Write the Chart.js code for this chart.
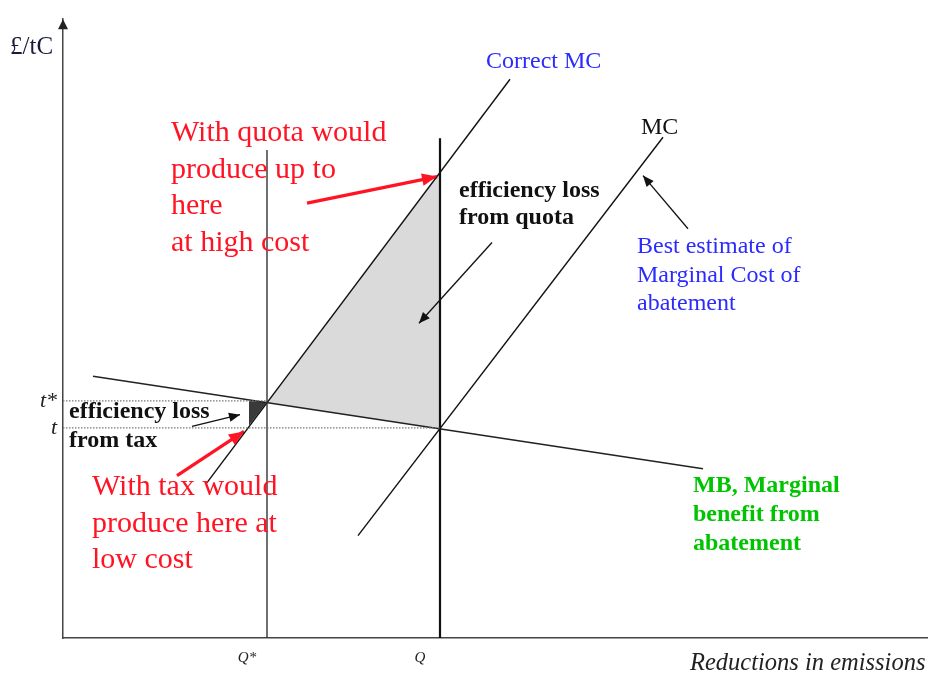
<!DOCTYPE html>
<html>
<head>
<meta charset="utf-8">
<script src="https://cdn.jsdelivr.net/npm/chart.js@4.4.1/dist/chart.umd.min.js"></script>
<style>
  body { margin: 0; background: #fff; }
  #wrap { width: 928px; height: 677px; }
</style>
</head>
<body>
<div id="wrap"><canvas id="abatementChart" width="928" height="677"></canvas></div>
<script>
// axis ranges (abatement Q on x, price £/tC on y)
const xMax = 865;
const yMax = 629;

// tick labels
const qTicks = [204, 377];
const qLabels = ['Q*', 'Q'];
const priceTicks = [241, 213.5];
const priceLabels = ['t*', 't'];

// curves
const mbLine = [{ x: 30, y: 266 }, { x: 640, y: 172 }];
const correctMcLine = [{ x: 144, y: 158 }, { x: 447, y: 568 }];
const mcLine = [{ x: 295, y: 104 }, { x: 600, y: 509 }];
const qStarLine = [{ x: 204, y: 0 }, { x: 204, y: 496 }];
const qLine = [{ x: 377, y: 0 }, { x: 377, y: 508 }];
const tStarLine = [{ x: 0, y: 241 }, { x: 204, y: 241 }];
const tLine = [{ x: 0, y: 213.5 }, { x: 377, y: 213.5 }];

// shaded efficiency losses
const quotaLossArea = [{ x: 204, y: 239 }, { x: 377, y: 473 }, { x: 377, y: 212.5 }, { x: 204, y: 239 }];
const taxLossArea = [{ x: 186, y: 241 }, { x: 204, y: 240 }, { x: 186, y: 216 }, { x: 186, y: 241 }];

// annotation arrows (tail, tip)
const quotaArrow = [{ x: 244, y: 442 }, { x: 374, y: 469 }];
const quotaLossArrow = [{ x: 429, y: 402 }, { x: 356, y: 320 }];
const mcArrow = [{ x: 625, y: 416 }, { x: 580, y: 470 }];
const taxArrow = [{ x: 114, y: 165 }, { x: 181, y: 210 }];
const taxLossArrow = [{ x: 129, y: 215 }, { x: 177, y: 227 }];

const serif = "'Liberation Serif', 'Times New Roman', serif";
const red = '#ff1424';
const blue = '#2b2bff';
const green = '#00c400';

const notes = [
    { lines: ['£/tC'], at: { x: -53, y: 594 }, font: '25px ' + serif, color: '#1a1a3a' },
    { lines: ['Correct MC'], at: { x: 423, y: 579 }, font: '24px ' + serif, color: blue },
    { lines: ['MC'], at: { x: 578, y: 512 }, font: '24px ' + serif, color: '#111' },
    { lines: ['With quota would', 'produce up to', 'here', 'at high cost'], at: { x: 108, y: 505 }, lh: 36.5, font: '30px ' + serif, color: red },
    { lines: ['efficiency loss', 'from quota'], at: { x: 396, y: 448 }, lh: 27, font: 'bold 24px ' + serif, color: '#111' },
    { lines: ['Best estimate of', 'Marginal Cost of', 'abatement'], at: { x: 574, y: 391 }, lh: 28.5, font: '24px ' + serif, color: blue },
    { lines: ['efficiency loss', 'from tax'], at: { x: 6, y: 224 }, lh: 29, font: 'bold 24px ' + serif, color: '#111' },
    { lines: ['With tax would', 'produce here at', 'low cost'], at: { x: 29, y: 145 }, lh: 36.5, font: '30px ' + serif, color: red },
    { lines: ['MB, Marginal', 'benefit from', 'abatement'], at: { x: 630, y: 148 }, lh: 29, font: 'bold 24px ' + serif, color: green },
    { lines: ['Reductions in emissions'], at: { x: 627, y: -33 }, font: 'italic 24.5px ' + serif, color: '#222' }
];

const line = (data, color, width, extra) => Object.assign({
    data: data, showLine: true, borderColor: color, borderWidth: width,
    pointRadius: 0, fill: false, tension: 0
}, extra || {});

const area = (data, color) => ({
    data: data, showLine: true, borderWidth: 0, borderColor: 'rgba(0,0,0,0)',
    backgroundColor: color, pointRadius: 0, fill: 'shape', order: 10
});

const arrowHeads = {
    id: 'arrowHeads',
    afterDatasetsDraw(chart) {
        const ctx = chart.ctx;
        chart.data.datasets.forEach((ds, i) => {
            if (!ds.head) return;
            const pts = chart.getDatasetMeta(i).data;
            const a = pts[pts.length - 2], b = pts[pts.length - 1];
            const ang = Math.atan2(b.y - a.y, b.x - a.x);
            const L = ds.head, W = ds.head * 0.42;
            ctx.save();
            ctx.fillStyle = ds.borderColor;
            ctx.beginPath();
            ctx.moveTo(b.x, b.y);
            ctx.lineTo(b.x - L * Math.cos(ang) + W * Math.sin(ang), b.y - L * Math.sin(ang) - W * Math.cos(ang));
            ctx.lineTo(b.x - L * Math.cos(ang) - W * Math.sin(ang), b.y - L * Math.sin(ang) + W * Math.cos(ang));
            ctx.closePath();
            ctx.fill();
            ctx.restore();
        });
        // arrow on top of price axis
        const { left, top } = chart.chartArea;
        ctx.save();
        ctx.fillStyle = '#222';
        ctx.beginPath();
        ctx.moveTo(left, top);
        ctx.lineTo(left - 5, top + 10);
        ctx.lineTo(left + 5, top + 10);
        ctx.closePath();
        ctx.fill();
        ctx.restore();
    }
};

const notesPlugin = {
    id: 'notes',
    afterDraw(chart) {
        const ctx = chart.ctx;
        const xs = chart.scales.x, ys = chart.scales.y;
        ctx.save();
        ctx.textAlign = 'left';
        ctx.textBaseline = 'alphabetic';
        notes.forEach(n => {
            ctx.font = n.font;
            ctx.fillStyle = n.color;
            const px = xs.getPixelForValue(n.at.x);
            const py = ys.getPixelForValue(n.at.y);
            n.lines.forEach((t, k) => ctx.fillText(t, px, py + k * (n.lh || 0)));
        });
        ctx.restore();
    }
};

new Chart(document.getElementById('abatementChart'), {
    type: 'scatter',
    data: {
        datasets: [
            area(quotaLossArea, '#dadada'),
            area(taxLossArea, '#3a3a3a'),
            line(tStarLine, '#777', 1.2, { borderDash: [1.5, 1.5] }),
            line(tLine, '#777', 1.2, { borderDash: [1.5, 1.5] }),
            line(qStarLine, '#333', 1.4),
            line(qLine, '#111', 2.2),
            line(mbLine, '#222', 1.6),
            line(correctMcLine, '#111', 1.4),
            line(mcLine, '#111', 1.4),
            line(quotaArrow, red, 3.2, { head: 15 }),
            line(taxArrow, red, 3.2, { head: 15 }),
            line(quotaLossArrow, '#111', 1.3, { head: 11 }),
            line(mcArrow, '#111', 1.3, { head: 11 }),
            line(taxLossArrow, '#111', 1.3, { head: 11 })
        ]
    },
    options: {
        responsive: false,
        animation: false,
        layout: { padding: { top: 9, right: 0, left: 0, bottom: 0 } },
        plugins: { legend: { display: false }, tooltip: { enabled: false } },
        scales: {
            x: {
                type: 'linear', min: 0, max: xMax,
                afterBuildTicks: s => { s.ticks = qTicks.map(v => ({ value: v })); },
                afterFit: s => { s.height = 39; },
                grid: { display: false, drawTicks: false },
                border: { display: true, color: '#444', width: 1.5 },
                ticks: {
                    callback: (v, i) => qLabels[i],
                    font: { family: serif, size: 15, style: 'italic' },
                    color: '#222', padding: 11, labelOffset: -20, maxRotation: 0
                }
            },
            y: {
                type: 'linear', min: 0, max: yMax,
                afterBuildTicks: s => { s.ticks = priceTicks.map(v => ({ value: v })); },
                afterFit: s => { s.width = 63; },
                grid: { display: false, drawTicks: false },
                border: { display: true, color: '#444', width: 1.5 },
                ticks: {
                    callback: (v, i) => priceLabels[i],
                    font: { family: serif, size: 22, style: 'italic' },
                    color: '#222', padding: 6
                }
            }
        }
    },
    plugins: [arrowHeads, notesPlugin]
});
</script>
</body>
</html>
